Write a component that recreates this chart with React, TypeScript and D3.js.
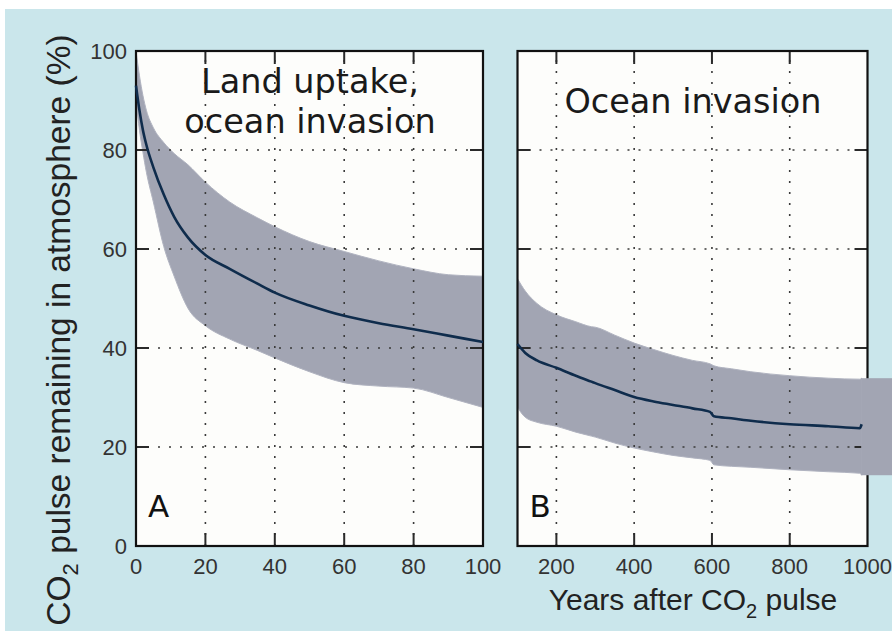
import React, { useEffect, useRef } from 'react';
import * as d3 from 'd3';

// panel A: first 100 years
const yearsA = [0, 1, 2, 3, 5, 8, 11, 15, 20, 27, 35, 40, 50, 60, 70, 80, 90, 100];
const meanA = [93, 88, 84, 81, 76.5, 71, 66.5, 62.3, 58.8, 56, 53, 51.2, 48.6, 46.5, 45, 43.8, 42.5, 41.2];
const upperA = [100, 95, 91, 88, 84.5, 81.5, 79.3, 77, 73.5, 69.5, 66.3, 64.5, 61.5, 59.5, 57.6, 56, 54.8, 54.5];
const lowerA = [90, 84, 79.5, 75.5, 69.5, 60.5, 54.5, 48, 44.5, 41.8, 39.5, 38, 35.2, 33, 32.3, 31.9, 30, 28];

// panel B: 100 to 1000 years
const yearsB = [100, 120, 150, 200, 250, 290, 300, 350, 400, 450, 500, 550, 595, 605, 650, 700, 800, 900, 980, 985];
const meanB = [40.8, 39, 37.5, 36, 34.4, 33.2, 32.9, 31.5, 30.1, 29.2, 28.5, 27.8, 27.1, 26.2, 25.8, 25.3, 24.6, 24.2, 23.8, 24.6];
const upperB = [54, 51.5, 49, 46.7, 45.3, 44.3, 44.2, 42.6, 41, 39.7, 38.5, 37.5, 36.8, 36.4, 35.8, 35.2, 34.4, 33.9, 33.7, 33.9];
const lowerB = [28, 26, 25, 24.2, 23, 22.2, 22, 20.8, 19.8, 19, 18.3, 17.8, 17.3, 16.4, 16.1, 15.9, 15.4, 15, 14.7, 14.3];

const yTicks = [0, 20, 40, 60, 80, 100];
const xTicksA = [0, 20, 40, 60, 80, 100];
const xTicksB = [200, 400, 600, 800, 1000];

const W = 892;
const H = 631;
const top = 51;
const bottom = 546;

const tickFont = '"Liberation Sans", Arial, sans-serif';
const titleFont = '"DejaVu Sans", sans-serif';

// draw one panel with its grid, band, mean line and frame
const drawPanel = (svg, opts) => {
    const { x, y, years, mean, upper, lower, xTicks, gridX, title, letter } = opts;
    const [x0, x1] = x.range();
    const g = svg.append('g');

    g.append('rect')
        .attr('x', x0).attr('y', top)
        .attr('width', x1 - x0).attr('height', bottom - top)
        .attr('fill', '#fdfdfb');

    const rows = years.map((d, i) => ({ t: d, m: mean[i], u: upper[i], l: lower[i] }));

    g.append('path')
        .datum(rows)
        .attr('d', d3.area()
            .x((d) => x(d.t))
            .y0((d) => y(d.l))
            .y1((d) => y(d.u))
            .curve(d3.curveMonotoneX))
        .attr('fill', '#a2a5b3')
        .attr('stroke', '#b0b3c0')
        .attr('stroke-width', 1);

    // dotted grid
    const grid = g.append('g')
        .attr('stroke', '#3a3a3a')
        .attr('stroke-width', 1.6)
        .attr('stroke-dasharray', '2,9');
    gridX.forEach((t) => {
        grid.append('line')
            .attr('x1', x(t)).attr('x2', x(t))
            .attr('y1', bottom).attr('y2', top);
    });
    [20, 40, 60, 80].forEach((v) => {
        grid.append('line')
            .attr('x1', x0).attr('x2', x1)
            .attr('y1', y(v)).attr('y2', y(v));
    });

    // inward ticks on all four sides
    const ticks = g.append('g').attr('stroke', '#2a2a2a').attr('stroke-width', 2);
    gridX.forEach((t) => {
        ticks.append('line').attr('x1', x(t)).attr('x2', x(t)).attr('y1', bottom).attr('y2', bottom - 13);
        ticks.append('line').attr('x1', x(t)).attr('x2', x(t)).attr('y1', top).attr('y2', top + 13);
    });
    [20, 40, 60, 80].forEach((v) => {
        ticks.append('line').attr('x1', x0).attr('x2', x0 + 13).attr('y1', y(v)).attr('y2', y(v));
        ticks.append('line').attr('x1', x1).attr('x2', x1 - 13).attr('y1', y(v)).attr('y2', y(v));
    });

    g.append('rect')
        .attr('x', x0).attr('y', top)
        .attr('width', x1 - x0).attr('height', bottom - top)
        .attr('fill', 'none')
        .attr('stroke', '#111')
        .attr('stroke-width', 2.2);

    // tick labels
    g.selectAll('.xl')
        .data(xTicks)
        .enter()
        .append('text')
        .attr('x', (d) => x(d))
        .attr('y', 574)
        .attr('text-anchor', 'middle')
        .attr('font-family', tickFont)
        .attr('font-size', 22)
        .attr('fill', '#333')
        .text((d) => d);

    const tt = g.append('text')
        .attr('font-family', titleFont)
        .attr('font-size', 33.5)
        .attr('fill', '#1a1a1a')
        .attr('text-anchor', 'middle');
    title.forEach((line, i) => {
        tt.append('tspan')
            .attr('x', opts.titleX)
            .attr('y', opts.titleY + i * 40)
            .text(line);
    });

    g.append('text')
        .attr('x', x0 + 12)
        .attr('y', 517)
        .attr('font-family', titleFont)
        .attr('font-size', 31)
        .attr('fill', '#111')
        .text(letter);

    return { g, rows };
};

// mean curve goes on last so the hook at the end of B stays visible
const drawMean = (g, rows, x, y) => {
    g.append('path')
        .datum(rows)
        .attr('d', d3.line()
            .x((d) => x(d.t))
            .y((d) => y(d.m))
            .curve(d3.curveMonotoneX))
        .attr('fill', 'none')
        .attr('stroke', '#0f2c4c')
        .attr('stroke-width', 2.6);
};

const App = () => {
    const ref = useRef(null);

    useEffect(() => {
        const svg = d3.select(ref.current);
        svg.selectAll('*').remove();

        svg.append('rect').attr('width', W).attr('height', H).attr('fill', '#fff');
        svg.append('rect')
            .attr('x', 5).attr('y', 9)
            .attr('width', W - 5).attr('height', H - 9)
            .attr('fill', '#cae6eb');

        const y = d3.scaleLinear().domain([0, 100]).range([bottom, top]);
        const xA = d3.scaleLinear().domain([0, 100]).range([136, 483]);
        const xB = d3.scaleLinear().domain([100, 1000]).range([517.5, 867.5]);

        const pa = drawPanel(svg, {
            x: xA, y, years: yearsA, mean: meanA, upper: upperA, lower: lowerA,
            xTicks: xTicksA, gridX: [20, 40, 60, 80],
            title: ['Land uptake,', 'ocean invasion'], titleX: 310, titleY: 93, letter: 'A',
        });
        const pb = drawPanel(svg, {
            x: xB, y, years: yearsB, mean: meanB, upper: upperB, lower: lowerB,
            xTicks: xTicksB, gridX: [200, 400, 600, 800],
            title: ['Ocean invasion'], titleX: 693, titleY: 113, letter: 'B',
        });

        // the band in B spills past the right frame
        const last = yearsB.length - 1;
        svg.append('rect')
            .attr('x', xB(yearsB[last]) - 0.5)
            .attr('y', y(upperB[last]))
            .attr('width', W - xB(yearsB[last]) + 0.5)
            .attr('height', y(lowerB[last]) - y(upperB[last]))
            .attr('fill', '#a2a5b3');

        drawMean(pa.g, pa.rows, xA, y);
        drawMean(svg, pb.rows, xB, y);

        // y tick labels
        svg.selectAll('.yl')
            .data(yTicks)
            .enter()
            .append('text')
            .attr('x', 127)
            .attr('y', (d) => y(d) + 8)
            .attr('text-anchor', 'end')
            .attr('font-family', tickFont)
            .attr('font-size', 22)
            .attr('fill', '#333')
            .text((d) => d);

        // axis titles
        const yt = svg.append('text')
            .attr('transform', 'translate(70,330) rotate(-90)')
            .attr('text-anchor', 'middle')
            .attr('font-family', tickFont)
            .attr('font-size', 33.5)
            .attr('fill', '#222');
        yt.append('tspan').text('CO');
        yt.append('tspan').attr('font-size', 22).attr('dy', 8).text('2');
        yt.append('tspan').attr('dy', -8).text(' pulse remaining in atmosphere (%)');

        const xt = svg.append('text')
            .attr('x', 693)
            .attr('y', 610)
            .attr('text-anchor', 'middle')
            .attr('font-family', tickFont)
            .attr('font-size', 30)
            .attr('fill', '#222');
        xt.append('tspan').text('Years after CO');
        xt.append('tspan').attr('font-size', 20).attr('dy', 8).text('2');
        xt.append('tspan').attr('dy', -8).text(' pulse');
    }, []);

    return (
        <svg
            ref={ref}
            width={W}
            height={H}
            style={{ position: 'absolute', left: 0, top: 0 }}
        />
    );
};

export default App;
